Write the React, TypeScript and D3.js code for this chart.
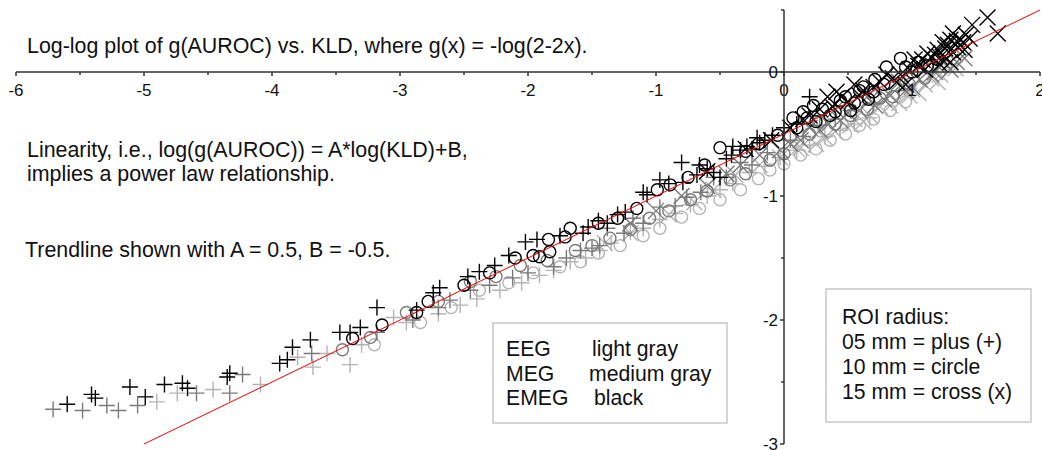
import React from 'react';
import * as d3 from 'd3';

// log(KLD), log(g(AUROC)) pairs
const emegPlus: [number, number][] = [
  [-5.60, -2.68], [-5.41, -2.60], [-5.38, -2.63], [-5.11, -2.54], [-4.99, -2.62],
  [-4.84, -2.52], [-4.70, -2.51], [-4.66, -2.55], [-4.35, -2.46], [-4.33, -2.43],
  [-3.94, -2.35], [-3.88, -2.32], [-3.84, -2.22], [-3.70, -2.16], [-3.47, -2.10],
  [-3.39, -2.10], [-3.31, -2.06], [-3.18, -1.90], [-2.87, -1.92], [-2.74, -1.78],
  [-2.69, -1.74], [-2.47, -1.65], [-2.38, -1.61], [-2.26, -1.56], [-2.15, -1.48],
  [-2.02, -1.37], [-1.93, -1.35], [-1.75, -1.32], [-1.53, -1.25], [-1.57, -1.30],
  [-1.45, -1.20], [-1.38, -1.22], [-1.30, -1.15], [-1.24, -1.13], [-1.07, -0.99],
  [-0.97, -0.87], [-1.10, -0.97], [-0.90, -0.90], [-0.80, -0.73], [-0.79, -0.89],
  [-0.68, -0.83], [-0.66, -0.75], [-0.60, -0.78], [-0.55, -0.81], [-0.50, -0.85],
  [-0.45, -0.70], [-0.40, -0.60], [-0.41, -0.67], [-0.34, -0.63], [-0.29, -0.60],
  [-0.25, -0.62], [-0.21, -0.53], [-0.19, -0.57], [-0.15, -0.55], [-0.09, -0.51],
  [0.00, -0.45], [0.10, -0.42], [0.20, -0.20],
];
const emegCircle: [number, number][] = [
  [-3.37, -2.15], [-3.14, -2.04], [-2.87, -1.94], [-2.78, -1.85], [-2.50, -1.72],
  [-2.30, -1.62], [-2.10, -1.50], [-1.96, -1.48], [-1.91, -1.49], [-1.84, -1.35],
  [-1.83, -1.45], [-1.71, -1.33], [-1.67, -1.26], [-1.45, -1.22], [-1.30, -1.18],
  [-1.15, -1.10], [-0.99, -0.95], [-0.89, -0.91], [-0.75, -0.85], [-0.62, -0.75],
  [-0.50, -0.61], [-0.30, -0.64], [-0.20, -0.58], [-0.05, -0.51], [0.07, -0.37],
  [0.10, -0.45], [0.15, -0.32], [0.23, -0.27], [0.18, -0.37], [0.25, -0.40],
  [0.30, -0.30], [0.36, -0.35], [0.40, -0.32], [0.44, -0.23], [0.48, -0.20],
  [0.52, -0.31], [0.55, -0.25], [0.59, -0.15], [0.62, -0.12], [0.66, -0.22],
  [0.70, -0.16], [0.71, -0.06], [0.78, -0.10], [0.80, 0.04], [0.91, 0.11],
  [0.95, 0.04], [1.00, 0.00], [1.05, 0.08], [1.12, 0.05], [1.20, 0.10],
];
const emegCross: [number, number][] = [
  [-0.60, -0.80], [-0.30, -0.62], [-0.10, -0.55], [0.05, -0.45], [0.15, -0.38],
  [0.20, -0.35], [0.28, -0.30], [0.34, -0.20], [0.38, -0.28], [0.41, -0.16],
  [0.45, -0.20], [0.50, -0.24], [0.55, -0.10], [0.59, -0.19], [0.62, -0.15],
  [0.70, -0.12], [0.75, -0.08], [0.80, -0.02], [0.85, -0.05], [0.88, -0.08],
  [0.91, -0.02], [0.95, -0.10], [0.98, 0.02], [1.02, 0.10], [1.05, 0.05],
  [1.08, 0.10], [1.10, 0.02], [1.12, 0.15], [1.15, 0.12], [1.18, 0.14],
  [1.20, 0.18], [1.22, 0.06], [1.22, 0.12], [1.24, 0.24], [1.25, 0.12],
  [1.26, 0.19], [1.28, 0.22], [1.30, 0.08], [1.30, 0.26], [1.32, 0.31],
  [1.32, 0.16], [1.34, 0.22], [1.35, 0.25], [1.36, 0.20], [1.38, 0.26],
  [1.40, 0.24], [1.41, 0.18], [1.42, 0.30], [1.45, 0.27], [1.47, 0.38],
  [1.59, 0.44], [1.67, 0.31],
];

const megPlus: [number, number][] = [
  [-5.71, -2.72], [-5.48, -2.73], [-5.29, -2.69], [-5.20, -2.73], [-5.05, -2.69],
  [-4.59, -2.59], [-4.33, -2.59], [-4.23, -2.44], [-3.69, -2.27], [-3.18, -2.10],
  [-2.90, -2.00], [-2.70, -1.90], [-2.61, -1.84], [-2.45, -1.76], [-2.30, -1.72],
  [-2.12, -1.66], [-2.00, -1.62], [-1.80, -1.57], [-1.70, -1.50], [-1.59, -1.44],
  [-1.50, -1.42], [-1.44, -1.40], [-1.38, -1.26], [-1.25, -1.30], [-1.18, -1.18],
  [-1.10, -1.22], [-0.97, -1.09], [-0.85, -1.08], [-0.76, -1.01], [-0.65, -0.97],
  [-0.55, -0.85], [-0.45, -0.85], [-0.34, -0.73], [-0.25, -0.75], [-0.13, -0.65],
  [0.05, -0.55], [0.15, -0.52], [0.28, -0.43], [0.40, -0.38], [0.52, -0.31],
  [0.70, -0.25], [0.90, -0.15],
];
const megCircle: [number, number][] = [
  [-3.45, -2.24], [-3.23, -2.14], [-2.95, -1.94], [-2.70, -1.85], [-2.45, -1.69],
  [-2.25, -1.65], [-2.06, -1.56], [-1.85, -1.52], [-1.63, -1.44], [-1.50, -1.40],
  [-1.36, -1.34], [-1.20, -1.27], [-1.05, -1.18], [-0.90, -1.12], [-0.73, -1.03],
  [-0.60, -0.96], [-0.42, -0.87], [-0.30, -0.82], [-0.11, -0.71], [0.00, -0.66],
  [0.05, -0.52], [0.20, -0.50], [0.28, -0.40], [0.40, -0.42], [0.52, -0.35],
  [0.65, -0.30], [0.75, -0.21], [0.85, -0.20], [0.98, -0.10], [1.10, -0.05],
];
const megCross: [number, number][] = [
  [-1.20, -1.22], [-1.00, -1.12], [-0.80, -1.00], [-0.60, -0.92], [-0.45, -0.82],
  [-0.34, -0.75], [-0.19, -0.67], [-0.03, -0.63], [0.05, -0.58], [0.13, -0.55],
  [0.20, -0.45], [0.28, -0.47], [0.35, -0.42], [0.40, -0.30], [0.44, -0.39],
  [0.50, -0.33], [0.59, -0.31], [0.65, -0.20], [0.71, -0.27], [0.78, -0.22],
  [0.83, -0.19], [0.90, -0.08], [0.95, -0.15], [1.00, -0.12], [1.06, -0.06],
  [1.10, 0.02], [1.15, -0.02], [1.18, 0.00], [1.20, 0.05], [1.25, 0.08],
  [1.30, 0.02], [1.35, 0.08], [1.41, 0.11],
];

const eegPlus: [number, number][] = [
  [-4.90, -2.66], [-4.74, -2.59], [-4.46, -2.56], [-4.09, -2.52], [-3.80, -2.30],
  [-3.68, -2.38], [-3.57, -2.27], [-3.39, -2.36], [-3.30, -2.20], [-3.05, -1.98],
  [-2.95, -2.02], [-2.70, -1.95], [-2.53, -1.88], [-2.40, -1.83], [-2.22, -1.76],
  [-2.05, -1.70], [-1.91, -1.64], [-1.80, -1.60], [-1.67, -1.53], [-1.55, -1.50],
  [-1.44, -1.44], [-1.35, -1.38], [-1.20, -1.29], [-1.10, -1.26], [-0.97, -1.19],
  [-0.85, -1.14], [-0.73, -1.07], [-0.60, -1.00], [-0.50, -0.95], [-0.40, -0.90],
  [-0.27, -0.81], [-0.15, -0.76], [-0.03, -0.69], [0.10, -0.63], [0.20, -0.59],
  [0.32, -0.52], [0.44, -0.47], [0.55, -0.42], [0.67, -0.37],
];
const eegCircle: [number, number][] = [
  [-3.20, -2.20], [-2.84, -2.02], [-2.60, -1.90], [-2.38, -1.76], [-2.15, -1.70],
  [-1.96, -1.62], [-1.75, -1.57], [-1.59, -1.53], [-1.45, -1.46], [-1.28, -1.40],
  [-1.10, -1.32], [-0.97, -1.26], [-0.80, -1.17], [-0.66, -1.10], [-0.50, -1.03],
  [-0.34, -0.95], [-0.20, -0.86], [-0.11, -0.79], [0.00, -0.74], [0.13, -0.67],
  [0.25, -0.62], [0.36, -0.55], [0.48, -0.50], [0.59, -0.43], [0.70, -0.38],
  [0.83, -0.31], [0.95, -0.24],
];
const eegCross: [number, number][] = [
  [-1.40, -1.38], [-1.20, -1.30], [-0.90, -1.15], [-0.70, -1.05], [-0.55, -0.95],
  [-0.38, -0.83], [-0.19, -0.75], [-0.03, -0.69], [0.10, -0.62], [0.13, -0.61],
  [0.25, -0.58], [0.32, -0.53], [0.40, -0.48], [0.52, -0.43], [0.55, -0.38],
  [0.62, -0.40], [0.67, -0.35], [0.75, -0.28], [0.83, -0.27], [0.90, -0.25],
  [0.98, -0.19], [1.00, -0.14], [1.05, -0.17], [1.10, -0.10], [1.15, -0.05],
  [1.20, -0.08], [1.22, -0.02], [1.30, 0.07], [1.34, 0.03],
];

const trendA = 0.5;
const trendB = -0.5;
const trendX = [-5, 2];

const xTicks = [-6, -5, -4, -3, -2, -1, 0, 1, 2];
const yTicks = [0, -1, -2, -3];

const LIGHT = '#b4b4b4';
const MEDIUM = '#7a7a7a';
const BLACK = '#000000';

const font = '"Liberation Sans", Arial, sans-serif';

export default function App() {
  const width = 1042;
  const height = 450;

  const x = d3.scaleLinear().domain([-6, 2]).range([16, 1040]);
  const y = d3.scaleLinear().domain([0.5, -3]).range([10, 444]);

  const plus = (d: [number, number]) => {
    const cx = x(d[0]), cy = y(d[1]);
    return `M${cx - 8},${cy}H${cx + 8}M${cx},${cy - 8}V${cy + 8}`;
  };
  const cross = (d: [number, number]) => {
    const cx = x(d[0]), cy = y(d[1]);
    return `M${cx - 8},${cy - 8}L${cx + 8},${cy + 8}M${cx - 8},${cy + 8}L${cx + 8},${cy - 8}`;
  };

  const groups = [
    { color: LIGHT, plus: eegPlus, circle: eegCircle, cross: eegCross },
    { color: MEDIUM, plus: megPlus, circle: megCircle, cross: megCross },
    { color: BLACK, plus: emegPlus, circle: emegCircle, cross: emegCross },
  ];

  const line = d3.line<number>()
    .x(d => x(d))
    .y(d => y(trendA * d + trendB));

  const xMinor = d3.range(-6, 2.01, 0.5);
  const yMinor = d3.range(0.5, -3.01, -0.5);

  return (
    <div style={{ position: 'absolute', left: 0, top: 0 }}>
      <svg width={width} height={height} style={{ display: 'block', background: '#fff' }}>
        {/* markers */}
        {groups.map((g, i) => (
          <g key={i} fill="none" stroke={g.color} strokeWidth={1.4}>
            {g.plus.map((d, j) => <path key={'p' + j} d={plus(d)} />)}
            {g.circle.map((d, j) => <circle key={'c' + j} cx={x(d[0])} cy={y(d[1])} r={6} />)}
            {g.cross.map((d, j) => <path key={'x' + j} d={cross(d)} />)}
          </g>
        ))}

        {/* trendline */}
        <path d={line(trendX) || ''} fill="none" stroke="#ff0000" strokeWidth={1} />

        {/* x axis */}
        <g stroke="#333" strokeWidth={1.5}>
          <line x1={x(-6)} x2={x(2)} y1={y(0)} y2={y(0)} />
          {xMinor.map(t => (
            <line key={t} x1={x(t)} x2={x(t)} y1={y(0)} y2={y(0) + (Number.isInteger(t) ? 4 : 3)} />
          ))}
        </g>
        {xTicks.map(t => (
          <text key={t} x={x(t)} y={y(0) + 24} textAnchor="middle" fontFamily={font} fontSize={17} fill="#111">
            {t}
          </text>
        ))}

        {/* y axis */}
        <g stroke="#333" strokeWidth={1.5}>
          <line x1={x(0)} x2={x(0)} y1={y(0.5)} y2={y(-3)} />
          {yMinor.map(t => (
            <line key={t} x1={x(0) - (Number.isInteger(t) ? 4 : 3)} x2={x(0)} y1={y(t)} y2={y(t)} />
          ))}
        </g>
        {yTicks.map(t => (
          <text key={t} x={x(0) - 6} y={y(t) + 6} textAnchor="end" fontFamily={font} fontSize={17} fill="#111">
            {t}
          </text>
        ))}

        {/* annotations */}
        <g fontFamily={font} fontSize={21.4} fill="#111">
          <text x={27} y={53}>Log-log plot of g(AUROC) vs. KLD, where g(x) = -log(2-2x).</text>
          <text x={27} y={157}>Linearity, i.e., log(g(AUROC)) = A*log(KLD)+B,</text>
          <text x={27} y={181}>implies a power law relationship.</text>
          <text x={25} y={257}>Trendline shown with A = 0.5, B = -0.5.</text>
        </g>

        {/* data-source legend */}
        <rect x={493} y={323} width={234} height={100} fill="#fff" stroke="#c8c8c8" strokeWidth={1.5} />
        <g fontFamily={font} fontSize={21.2} fill="#111">
          <text x={506} y={356}>EEG</text>
          <text x={592} y={356}>light gray</text>
          <text x={506} y={381}>MEG</text>
          <text x={589} y={381}>medium gray</text>
          <text x={506} y={405}>EMEG</text>
          <text x={594} y={405}>black</text>
        </g>

        {/* ROI legend */}
        <rect x={826} y={289} width={205} height={133} fill="#fff" stroke="#c8c8c8" strokeWidth={1.5} />
        <g fontFamily={font} fontSize={21.2} fill="#111">
          <text x={842} y={324}>ROI radius:</text>
          <text x={842} y={349}>05 mm = plus (+)</text>
          <text x={842} y={374}>10 mm = circle</text>
          <text x={842} y={399}>15 mm = cross (x)</text>
        </g>
      </svg>
    </div>
  );
}
